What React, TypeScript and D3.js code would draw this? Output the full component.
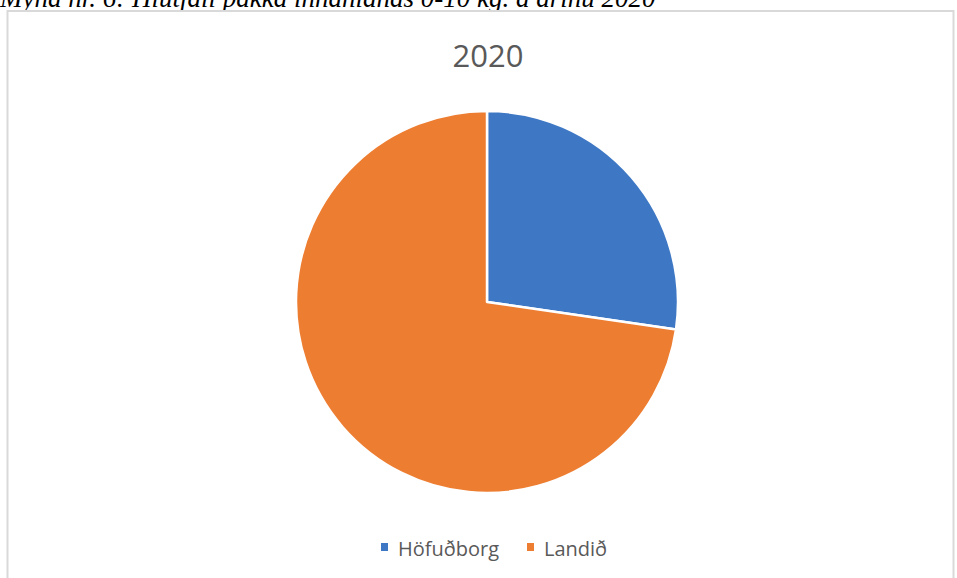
import * as d3 from "d3";
import React, { useEffect, useRef } from "react";

// data
const categories = ["Höfuðborg", "Landið"];
const shares = [27.3, 72.7];
const colors = ["#3e78c5", "#ed7d31"];
const caption = "Mynd nr. 6: Hlutfall pakka innanlands 0-10 kg. á árinu 2020";
const title = "2020";

const W = 957;
const H = 578;

export default function App() {
  const ref = useRef<SVGSVGElement>(null);

  useEffect(() => {
    const svg = d3.select(ref.current);
    svg.selectAll("*").remove();

    svg.append("rect").attr("width", W).attr("height", H).attr("fill", "#fff");

    // caption above the chart (cut off at the top in the original)
    svg
      .append("text")
      .attr("x", 0)
      .attr("y", 7)
      .attr("font-family", "'Liberation Serif', 'Times New Roman', serif")
      .attr("font-style", "italic")
      .attr("font-size", 27)
      .attr("fill", "#000")
      .text(caption);

    // chart frame
    svg
      .append("rect")
      .attr("x", 7.5)
      .attr("y", 11)
      .attr("width", W - 11)
      .attr("height", H + 10)
      .attr("fill", "#fff")
      .attr("stroke", "#d9d9d9")
      .attr("stroke-width", 2);

    svg
      .append("text")
      .attr("x", 488)
      .attr("y", 67)
      .attr("text-anchor", "middle")
      .attr("font-family", "'Open Sans', sans-serif")
      .attr("font-size", 31)
      .attr("fill", "#595959")
      .text(title);

    const cx = 487;
    const cy = 302;
    const r = 191;

    const pie = d3
      .pie<number>()
      .sort(null)
      .value((d) => d);
    const arc = d3.arc<d3.PieArcDatum<number>>().innerRadius(0).outerRadius(r);

    svg
      .append("g")
      .attr("transform", `translate(${cx},${cy})`)
      .selectAll("path")
      .data(pie(shares))
      .enter()
      .append("path")
      .attr("d", arc)
      .attr("fill", (d, i) => colors[i])
      .attr("stroke", "#fff")
      .attr("stroke-width", 2.5)
      .attr("stroke-linejoin", "round");

    // legend
    const legendX = [381, 527];
    const legend = svg
      .append("g")
      .selectAll("g")
      .data(categories)
      .enter()
      .append("g")
      .attr("transform", (d, i) => `translate(${legendX[i]},556)`);
    legend
      .append("rect")
      .attr("x", 0)
      .attr("y", -13)
      .attr("width", 7)
      .attr("height", 8)
      .attr("fill", (d, i) => colors[i]);
    legend
      .append("text")
      .attr("x", 17)
      .attr("y", 0)
      .attr("font-family", "'Open Sans', sans-serif")
      .attr("font-size", 20)
      .attr("fill", "#595959")
      .text((d) => d);
  }, []);

  return (
    <svg
      ref={ref}
      width={W}
      height={H}
      style={{ position: "absolute", left: 0, top: 0, display: "block" }}
    />
  );
}
